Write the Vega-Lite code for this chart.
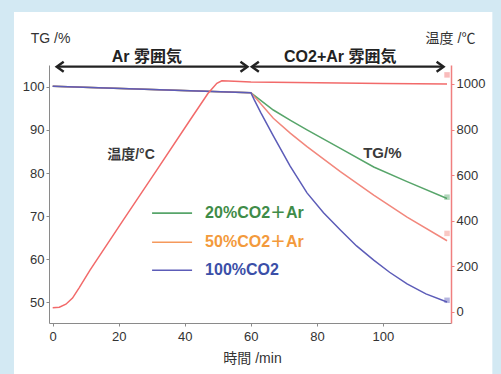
{
  "$schema": "https://vega.github.io/schema/vega-lite/v6.json",
  "width": 402,
  "height": 258,
  "autosize": {"type": "none"},
  "padding": {"left": 49, "top": 65, "right": 50, "bottom": 51},
  "background": "#d3e9f3",
  "config": {
    "view": {"stroke": null},
    "axis": {"grid": false, "labelFont": "Liberation Sans", "labelFontSize": 13, "labelColor": "#333333", "titleFont": "Liberation Sans, Noto Sans CJK JP", "titleFontSize": 14, "titleFontWeight": "normal", "titleColor": "#333333", "tickSize": 3, "domainColor": "#8a8a8a", "tickColor": "#8a8a8a", "labelPadding": 2}
  },
  "datasets": {
    "one": [{}],
    "tg": [
      {"t": 0, "series": "20%", "tg": 100.1}, {"t": 60, "series": "20%", "tg": 98.6}, {"t": 62, "series": "20%", "tg": 97.4}, {"t": 66.8, "series": "20%", "tg": 94.6}, {"t": 72, "series": "20%", "tg": 92.2}, {"t": 77, "series": "20%", "tg": 90.0}, {"t": 87.1, "series": "20%", "tg": 85.7}, {"t": 97.2, "series": "20%", "tg": 81.4}, {"t": 107.3, "series": "20%", "tg": 78.0}, {"t": 119.4, "series": "20%", "tg": 74.1},
      {"t": 0, "series": "50%", "tg": 100.1}, {"t": 60, "series": "50%", "tg": 98.6}, {"t": 62, "series": "50%", "tg": 96.9}, {"t": 66.8, "series": "50%", "tg": 92.7}, {"t": 72, "series": "50%", "tg": 89.2}, {"t": 77, "series": "50%", "tg": 86.1}, {"t": 87.1, "series": "50%", "tg": 80.3}, {"t": 97.2, "series": "50%", "tg": 74.9}, {"t": 107.3, "series": "50%", "tg": 69.8}, {"t": 119.4, "series": "50%", "tg": 64.3},
      {"t": 0, "series": "100%", "tg": 100.1}, {"t": 60, "series": "100%", "tg": 98.6}, {"t": 61, "series": "100%", "tg": 97.0}, {"t": 63, "series": "100%", "tg": 94.0}, {"t": 66.8, "series": "100%", "tg": 88.6}, {"t": 71.9, "series": "100%", "tg": 81.6}, {"t": 77, "series": "100%", "tg": 75.4}, {"t": 82, "series": "100%", "tg": 70.8}, {"t": 87.1, "series": "100%", "tg": 66.8}, {"t": 92, "series": "100%", "tg": 63.1}, {"t": 97.2, "series": "100%", "tg": 59.8}, {"t": 102, "series": "100%", "tg": 57.0}, {"t": 107.3, "series": "100%", "tg": 54.3}, {"t": 113, "series": "100%", "tg": 52.0}, {"t": 119.4, "series": "100%", "tg": 50.1}
    ],
    "tgEnd": [
      {"t": 119.4, "series": "20%", "tg": 74.4},
      {"t": 119.4, "series": "50%", "tg": 66.0},
      {"t": 119.4, "series": "100%", "tg": 50.5}
    ],
    "temp": [
      {"t": 0, "temp": 17}, {"t": 2, "temp": 20}, {"t": 4, "temp": 33}, {"t": 6, "temp": 60}, {"t": 8, "temp": 105}, {"t": 11.3, "temp": 183}, {"t": 21.4, "temp": 403}, {"t": 31.5, "temp": 622}, {"t": 41.6, "temp": 842}, {"t": 47, "temp": 958}, {"t": 49.7, "temp": 1003}, {"t": 51.2, "temp": 1014}, {"t": 55, "temp": 1012}, {"t": 60, "temp": 1009}, {"t": 80, "temp": 1005}, {"t": 100, "temp": 1002}, {"t": 119.4, "temp": 1000}
    ],
    "tempEnd": [{"t": 119.4, "temp": 1040}]
  },
  "layer": [
    {
      "layer": [
        {
          "data": {"name": "one"},
          "mark": {"type": "rect", "color": "white"},
          "encoding": {
            "x": {"datum": -11.73, "type": "quantitative", "scale": {"domain": [-1.12, 120.6], "nice": false, "zero": false}},
            "x2": {"datum": 133.12},
            "y": {"datum": 117.33, "type": "quantitative", "scale": {"domain": [45.24, 105.03], "nice": false, "zero": false}},
            "y2": {"datum": 33.41}
          }
        },
        {
          "data": {"name": "tg"},
          "mark": {"type": "line", "strokeWidth": 1.5},
          "encoding": {
            "x": {"field": "t", "type": "quantitative", "scale": {"domain": [-1.12, 120.6], "nice": false, "zero": false},
              "axis": {"zindex": 2, "values": [0, 10, 20, 30, 40, 50, 60, 70, 80, 90, 100, 110], "labelExpr": "datum.value % 20 == 0 ? datum.label : ''", "title": "時間 /min", "titleX": 203, "titleY": 35, "titleAlign": "center", "titleBaseline": "middle", "labelPadding": 4, "labelFlush": false}},
            "y": {"field": "tg", "type": "quantitative", "scale": {"domain": [45.24, 105.03], "nice": false, "zero": false},
              "axis": {"zindex": 2, "orient": "left", "values": [50, 60, 70, 80, 90, 100], "title": "TG /%", "titleAngle": 0, "titleX": 1, "titleY": -27, "titleAlign": "center", "titleBaseline": "middle"}},
            "color": {"field": "series", "type": "nominal", "scale": {"domain": ["20%", "50%", "100%"], "range": ["#57a56a", "#f2877c", "#5c5cb8"]}, "legend": null},
            "order": {"field": "t"}
          }
        },
        {
          "data": {"name": "tgEnd"},
          "mark": {"type": "point", "shape": "square", "filled": true, "size": 30, "opacity": 0.45},
          "encoding": {
            "x": {"field": "t", "type": "quantitative"},
            "y": {"field": "tg", "type": "quantitative"},
            "color": {"field": "series", "type": "nominal", "legend": null}
          }
        },
        {
          "data": {"name": "one"},
          "mark": {"type": "rule", "color": "#222222", "strokeWidth": 2.2},
          "encoding": {"x": {"datum": 1.4, "type": "quantitative"}, "x2": {"datum": 58.8}, "y": {"datum": 104.64, "type": "quantitative"}}
        },
        {
          "data": {"name": "one"},
          "mark": {"type": "rule", "color": "#222222", "strokeWidth": 2.2},
          "encoding": {"x": {"datum": 60.5, "type": "quantitative"}, "x2": {"datum": 118.2}, "y": {"datum": 104.64, "type": "quantitative"}}
        },
        {
          "data": {"name": "one"},
          "mark": {"type": "point", "shape": "M 1.4 -1 L 0 0 L 1.4 1", "size": 100, "filled": false, "stroke": "#222222", "strokeWidth": 2.4, "opacity": 1},
          "encoding": {"x": {"datum": 1.21, "type": "quantitative"}, "y": {"datum": 104.64, "type": "quantitative"}}
        },
        {
          "data": {"name": "one"},
          "mark": {"type": "point", "shape": "M -1.4 -1 L 0 0 L -1.4 1", "size": 100, "filled": false, "stroke": "#222222", "strokeWidth": 2.4, "opacity": 1},
          "encoding": {"x": {"datum": 58.97, "type": "quantitative"}, "y": {"datum": 104.64, "type": "quantitative"}}
        },
        {
          "data": {"name": "one"},
          "mark": {"type": "point", "shape": "M 1.4 -1 L 0 0 L 1.4 1", "size": 100, "filled": false, "stroke": "#222222", "strokeWidth": 2.4, "opacity": 1},
          "encoding": {"x": {"datum": 60.3, "type": "quantitative"}, "y": {"datum": 104.64, "type": "quantitative"}}
        },
        {
          "data": {"name": "one"},
          "mark": {"type": "point", "shape": "M -1.4 -1 L 0 0 L -1.4 1", "size": 100, "filled": false, "stroke": "#222222", "strokeWidth": 2.4, "opacity": 1},
          "encoding": {"x": {"datum": 118.36, "type": "quantitative"}, "y": {"datum": 104.64, "type": "quantitative"}}
        },
        {
          "data": {"name": "one"},
          "mark": {"type": "text", "text": "Ar 雰囲気", "font": "Liberation Sans, Noto Sans CJK JP", "fontSize": 16, "fontWeight": "bold", "color": "#222222", "align": "center", "baseline": "middle"},
          "encoding": {"x": {"datum": 28.5, "type": "quantitative"}, "y": {"datum": 106.89, "type": "quantitative"}}
        },
        {
          "data": {"name": "one"},
          "mark": {"type": "text", "text": "CO2+Ar 雰囲気", "font": "Liberation Sans, Noto Sans CJK JP", "fontSize": 16, "fontWeight": "bold", "color": "#222222", "align": "center", "baseline": "middle"},
          "encoding": {"x": {"datum": 87.06, "type": "quantitative"}, "y": {"datum": 106.89, "type": "quantitative"}}
        },
        {
          "data": {"name": "one"},
          "mark": {"type": "text", "text": "温度/°C", "font": "Liberation Sans, Noto Sans CJK JP", "fontSize": 14, "fontWeight": "bold", "color": "#3a3a3a", "align": "center", "baseline": "middle"},
          "encoding": {"x": {"datum": 23.7, "type": "quantitative"}, "y": {"datum": 84.15, "type": "quantitative"}}
        },
        {
          "data": {"name": "one"},
          "mark": {"type": "text", "text": "TG/%", "font": "Liberation Sans", "fontSize": 15, "fontWeight": "bold", "color": "#3a3a3a", "align": "center", "baseline": "middle"},
          "encoding": {"x": {"datum": 99.8, "type": "quantitative"}, "y": {"datum": 84.6, "type": "quantitative"}}
        },
        {
          "data": {"name": "one"},
          "mark": {"type": "rule", "color": "#57a56a", "strokeWidth": 1.6},
          "encoding": {"x": {"datum": 30.09, "type": "quantitative"}, "x2": {"datum": 42.2}, "y": {"datum": 70.7, "type": "quantitative"}}
        },
        {
          "data": {"name": "one"},
          "mark": {"type": "rule", "color": "#f5995c", "strokeWidth": 1.6},
          "encoding": {"x": {"datum": 30.09, "type": "quantitative"}, "x2": {"datum": 42.2}, "y": {"datum": 63.97, "type": "quantitative"}}
        },
        {
          "data": {"name": "one"},
          "mark": {"type": "rule", "color": "#5c5cb8", "strokeWidth": 1.6},
          "encoding": {"x": {"datum": 30.09, "type": "quantitative"}, "x2": {"datum": 42.2}, "y": {"datum": 57.47, "type": "quantitative"}}
        },
        {
          "data": {"name": "one"},
          "mark": {"type": "text", "text": "20%CO2＋Ar", "font": "Liberation Sans, Noto Sans CJK JP", "fontSize": 16, "fontWeight": "bold", "color": "#3f8c48", "align": "left", "baseline": "middle"},
          "encoding": {"x": {"datum": 46.15, "type": "quantitative"}, "y": {"datum": 70.7, "type": "quantitative"}}
        },
        {
          "data": {"name": "one"},
          "mark": {"type": "text", "text": "50%CO2＋Ar", "font": "Liberation Sans, Noto Sans CJK JP", "fontSize": 16, "fontWeight": "bold", "color": "#f39a3c", "align": "left", "baseline": "middle"},
          "encoding": {"x": {"datum": 46.15, "type": "quantitative"}, "y": {"datum": 63.97, "type": "quantitative"}}
        },
        {
          "data": {"name": "one"},
          "mark": {"type": "text", "text": "100%CO2", "font": "Liberation Sans, Noto Sans CJK JP", "fontSize": 16, "fontWeight": "bold", "color": "#3b4fa8", "align": "left", "baseline": "middle"},
          "encoding": {"x": {"datum": 46.15, "type": "quantitative"}, "y": {"datum": 57.47, "type": "quantitative"}}
        }
      ]
    },
    {
      "layer": [
        {
          "data": {"name": "temp"},
          "mark": {"type": "line", "color": "#f26a6a", "strokeWidth": 1.5},
          "encoding": {
            "x": {"field": "t", "type": "quantitative"},
            "y": {"field": "temp", "type": "quantitative", "scale": {"domain": [-49.6, 1083.4], "nice": false, "zero": false},
              "axis": {"zindex": 2, "orient": "right", "format": "d", "values": [0, 200, 400, 600, 800, 1000], "title": "温度 /℃", "titleAngle": 0, "titleX": -1, "titleY": -27, "titleAlign": "center", "titleBaseline": "middle", "domainColor": "#f07f7f", "domainWidth": 1.5, "tickColor": "#f07f7f"}},
            "order": {"field": "t"}
          }
        },
        {
          "data": {"name": "tempEnd"},
          "mark": {"type": "point", "shape": "square", "filled": true, "size": 30, "opacity": 0.45, "color": "#f26a6a"},
          "encoding": {
            "x": {"field": "t", "type": "quantitative"},
            "y": {"field": "temp", "type": "quantitative"}
          }
        }
      ]
    }
  ],
  "resolve": {"scale": {"y": "independent"}}
}
